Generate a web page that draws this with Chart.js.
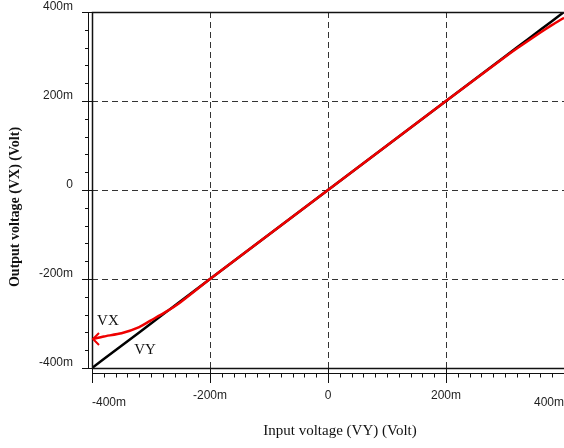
<!DOCTYPE html>
<html>
<head>
<meta charset="utf-8">
<script src="https://cdn.jsdelivr.net/npm/chart.js@4/dist/chart.umd.min.js"></script>
<style>
  html, body { margin: 0; padding: 0; background: #fff; }
  #wrap { width: 564px; height: 448px; position: relative; }
</style>
</head>
<body>
<div id="wrap"><canvas id="chart"></canvas></div>
<script>
// input voltage VY (mV) and the two traces
const xValues  = [-400, -380, -350, -320, -300, -275, -250, -200, -100, 0, 100, 200, 300, 320, 340, 360, 380, 400];
const vyValues = [-400, -380, -350, -320, -300, -275, -250, -200, -100, 0, 100, 200, 300, 320, 340, 360, 380, 400];
const vxValues = [-335, -329, -322, -308, -293, -274, -252, -200, -100, 0, 100, 200, 299, 318, 336, 354, 371, 387];

const tickValues = [-400, -200, 0, 200, 400];
const xTickLabels = ["-400m", "-200m", "0", "200m", "400m"];
const yTickLabels = ["-400m", "-200m", "0", "200m", "400m"];

const seriesNames = ["VX", "VY"];
// where the trace names sit (mV)
const nameSpots = { VX: [-373, -294], VY: [-310, -360] };

const sansFont = "12px 'Liberation Sans', Arial, sans-serif";
const serifFont = "15px 'Liberation Serif', 'Times New Roman', serif";

const toPts = (ys) => xValues.map((x, i) => ({ x: x, y: ys[i] }));

// grid, borders, ticks, labels drawn against the chart's own scales
const axesPlugin = {
  id: "axesDecor",
  beforeDatasetsDraw(chart) {
    const { ctx, chartArea: a, scales: { x, y } } = chart;
    ctx.save();
    ctx.strokeStyle = "#333";
    ctx.lineWidth = 1;
    ctx.setLineDash([6, 4]);
    tickValues.slice(1, -1).forEach((v) => {
      const px = Math.round(x.getPixelForValue(v)) + 0.5;
      ctx.beginPath(); ctx.moveTo(px, a.top); ctx.lineTo(px, a.bottom); ctx.stroke();
      const py = Math.round(y.getPixelForValue(v)) + 0.5;
      ctx.beginPath(); ctx.moveTo(a.left, py); ctx.lineTo(a.right, py); ctx.stroke();
    });
    ctx.restore();
  },
  afterDatasetsDraw(chart) {
    const { ctx, chartArea: a, scales: { x, y } } = chart;
    ctx.save();
    ctx.setLineDash([]);
    ctx.strokeStyle = "#111";

    // plot frame
    ctx.lineWidth = 1.5;
    ctx.beginPath();
    ctx.moveTo(a.right, a.top + 0.5);
    ctx.lineTo(a.left + 0.5, a.top + 0.5);
    ctx.lineTo(a.left + 0.5, a.bottom + 0.5);
    ctx.lineTo(a.right, a.bottom + 0.5);
    ctx.stroke();

    // y tick axis
    ctx.lineWidth = 1;
    const yLine = a.left - 3.5;
    ctx.beginPath(); ctx.moveTo(yLine, a.top); ctx.lineTo(yLine, a.bottom); ctx.stroke();
    for (let v = -400; v <= 400; v += 40) {
      const py = Math.round(y.getPixelForValue(v)) + 0.5;
      const major = tickValues.includes(v);
      ctx.beginPath();
      ctx.moveTo(major ? a.left - 10 : a.left - 7, py);
      ctx.lineTo(major ? a.left : yLine, py);
      ctx.stroke();
    }

    // x tick axis
    const xLine = a.bottom + 5.5;
    ctx.beginPath(); ctx.moveTo(a.left, xLine); ctx.lineTo(a.right, xLine); ctx.stroke();
    for (let v = -400; v <= 400; v += 20) {
      const px = Math.round(x.getPixelForValue(v)) + 0.5;
      const major = tickValues.includes(v);
      ctx.beginPath();
      ctx.moveTo(px, major ? a.bottom : xLine);
      ctx.lineTo(px, major ? a.bottom + 15 : xLine + 4);
      ctx.stroke();
    }

    // tick labels
    ctx.fillStyle = "#1e1e1e";
    ctx.font = sansFont;
    ctx.textBaseline = "middle";
    ctx.textAlign = "right";
    tickValues.forEach((v, i) => {
      ctx.fillText(yTickLabels[i], a.left - 19, y.getPixelForValue(v) - 5);
    });
    tickValues.forEach((v, i) => {
      const px = x.getPixelForValue(v);
      const last = i === tickValues.length - 1;
      if (i === 0) { ctx.textAlign = "left"; ctx.fillText(xTickLabels[i], px, a.bottom + 35); }
      else if (last) { ctx.textAlign = "right"; ctx.fillText(xTickLabels[i], px, a.bottom + 35); }
      else { ctx.textAlign = "center"; ctx.fillText(xTickLabels[i], px, a.bottom + 28); }
    });

    // axis titles
    ctx.fillStyle = "#111";
    ctx.font = serifFont;
    ctx.textAlign = "center";
    ctx.fillText("Input voltage (VY) (Volt)", (a.left + a.right) / 2 + 12, a.bottom + 63);
    ctx.save();
    ctx.translate(15, (a.top + a.bottom) / 2 + 17);
    ctx.rotate(-Math.PI / 2);
    ctx.font = "bold 14px 'Liberation Serif', 'Times New Roman', serif";
    ctx.fillText("Output voltage (VX) (Volt)", 0, 0);
    ctx.restore();

    // arrow head at the start of VX
    const first = chart.getDatasetMeta(0).data[0];
    ctx.strokeStyle = "#ee0000";
    ctx.lineWidth = 2;
    ctx.beginPath();
    ctx.moveTo(first.x + 7, first.y - 6);
    ctx.lineTo(first.x + 1, first.y);
    ctx.lineTo(first.x + 7, first.y + 6);
    ctx.stroke();

    // trace names
    ctx.fillStyle = "#111";
    ctx.font = serifFont;
    seriesNames.forEach((n) => {
      const [vx, vy] = nameSpots[n];
      ctx.fillText(n, x.getPixelForValue(vx), y.getPixelForValue(vy));
    });
    ctx.restore();
  }
};

new Chart(document.getElementById("chart"), {
  type: "scatter",
  data: {
    datasets: [
      // first dataset is drawn on top, so VX (red) goes first
      { label: seriesNames[0], data: toPts(vxValues), showLine: true, borderColor: "#ee0000", borderWidth: 2.5, pointRadius: 0, tension: 0.2 },
      { label: seriesNames[1], data: toPts(vyValues), showLine: true, borderColor: "#000", borderWidth: 2.5, pointRadius: 0, tension: 0 }
    ]
  },
  options: {
    responsive: true,
    maintainAspectRatio: false,
    animation: false,
    layout: { padding: { top: 12, right: 0, left: 0, bottom: 0 } },
    plugins: { legend: { display: false }, tooltip: { enabled: false } },
    scales: {
      x: {
        type: "linear", min: -400, max: 400,
        ticks: { display: false },
        grid: { display: false },
        border: { display: false },
        afterFit: (s) => { s.height = 80; }
      },
      y: {
        type: "linear", min: -400, max: 400,
        ticks: { display: false },
        grid: { display: false },
        border: { display: false },
        afterFit: (s) => { s.width = 92; }
      }
    }
  },
  plugins: [axesPlugin]
});
</script>
</body>
</html>
